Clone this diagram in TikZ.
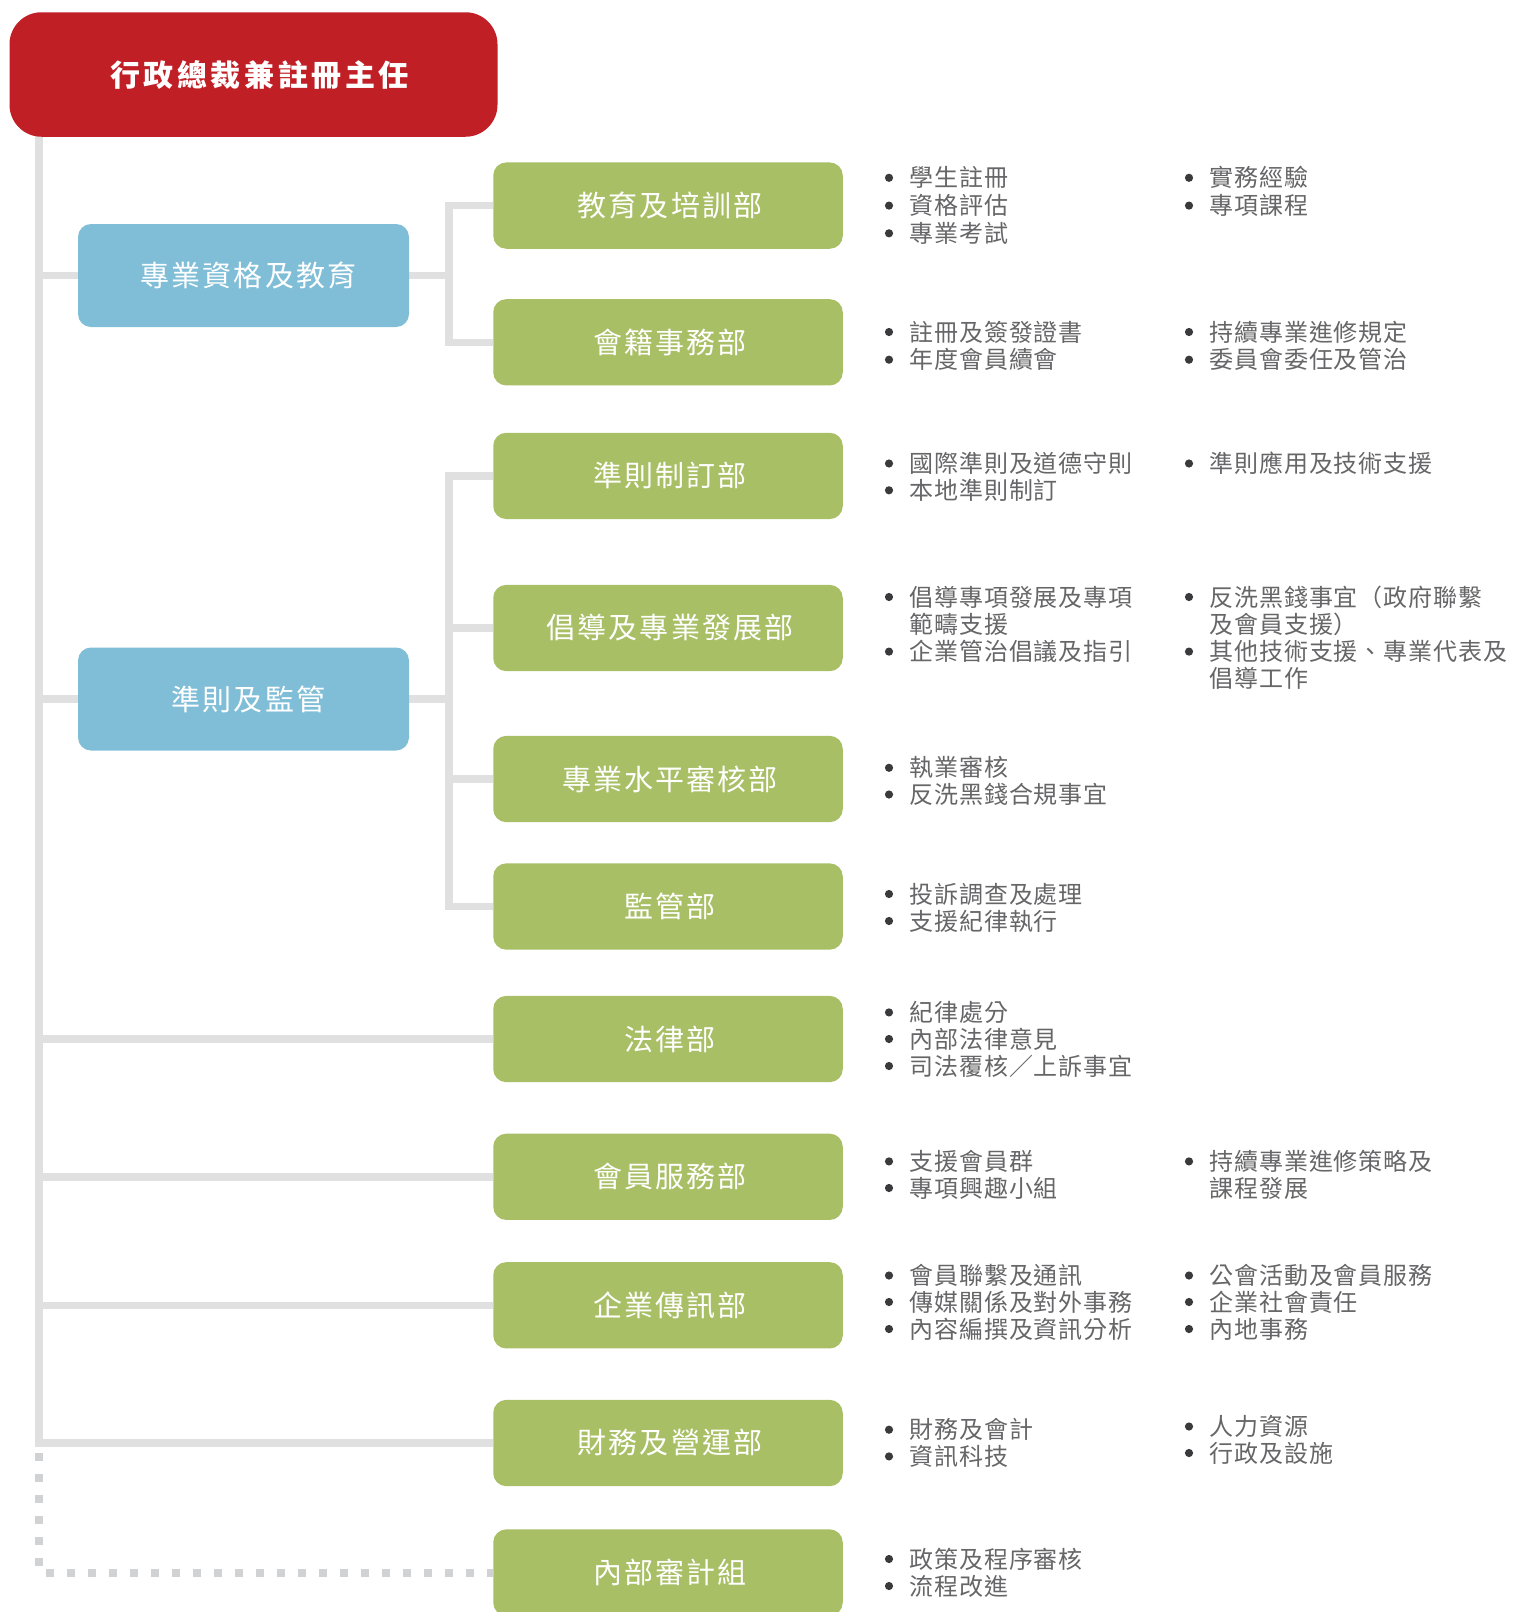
\documentclass[tikz,border=0pt]{standalone}
\usepackage{fontspec}
\usetikzlibrary{backgrounds}
\newfontfamily\bulf[LetterSpace=4]{Noto Sans CJK TC}
\newfontfamily\boxf[LetterSpace=7]{Noto Sans CJK TC}
\newfontfamily\redf[LetterSpace=11.7]{Noto Sans CJK TC}
\definecolor{redc}{HTML}{C01F26}
\definecolor{bluec}{HTML}{80BED7}
\definecolor{greenc}{HTML}{A8BF65}
\definecolor{linec}{HTML}{E0E0E0}
\definecolor{dotlc}{HTML}{D1D2D3}
\definecolor{txtc}{HTML}{666668}
\definecolor{dotc}{HTML}{3A3A3C}
\tikzset{
  redbox/.style={fill=redc, rounded corners=32pt, minimum width=488pt, minimum height=124.5pt, inner sep=0pt, text=white, font=\redf\bfseries\fontsize{30}{34}\selectfont, execute at begin node=\kern12pt},
  bluebox/.style={fill=bluec, rounded corners=13pt, minimum width=331pt, minimum height=103pt, inner sep=0pt, text=white, font=\boxf\fontsize{29}{33}\selectfont, execute at begin node=\kern10pt},
  greenbox/.style={fill=greenc, rounded corners=13pt, minimum width=349.5pt, minimum height=86.3pt, inner sep=0pt, text=white, font=\boxf\fontsize{29}{33}\selectfont, execute at begin node=\kern4pt},
  ln/.style={draw=linec, line width=7.6pt, line join=miter},
  dl/.style={draw=dotlc, line width=8pt, dash pattern=on 8pt off 13pt},
  btext/.style={anchor=base west, inner sep=0pt, text=txtc, font=\bulf\fontsize{24}{28}\selectfont},
}
\newcommand\bitem[4]{%
  \fill[dotc] (#2-20,#3) circle (4.1pt);
  \node[btext] (#1) at (#2,#3+9.1) {#4};}
\newcommand\citem[4]{%
  \node[btext] (#1) at (#2,#3+9.1) {#4};}
\begin{document}
\begin{tikzpicture}[x=1pt,y=-1pt]
\useasboundingbox (0,0) rectangle (1514,1612);

% boxes
\node[redbox] (ceo) at (253.5,74.5) {行政總裁兼註冊主任};
\node[bluebox] (b1) at (243.5,275.5) {專業資格及教育};
\node[bluebox] (b2) at (243.5,699) {準則及監管};
\node[greenbox] (g1) at (668,205.6) {教育及培訓部};
\node[greenbox] (g2) at (668,342.3) {會籍事務部};
\node[greenbox] (g3) at (668,475.9) {準則制訂部};
\node[greenbox] (g4) at (668,628) {倡導及專業發展部};
\node[greenbox] (g5) at (668,779) {專業水平審核部};
\node[greenbox] (g6) at (668,906.5) {監管部};
\node[greenbox] (g7) at (668,1039) {法律部};
\node[greenbox] (g8) at (668,1176.8) {會員服務部};
\node[greenbox] (g9) at (668,1305.3) {企業傳訊部};
\node[greenbox] (g10) at (668,1443) {財務及營運部};
\node[greenbox] (g11) at (668,1572.5) {內部審計組};

\coordinate (tr) at (39,130);
\coordinate (br) at (449,0);
\coordinate (dtop) at (39,1453);

\begin{pgfonlayer}{background}
  % trunk
  \draw[ln] (tr) |- (g10.west);
  \draw[ln] (tr |- b1.west) -- (b1.west);
  \draw[ln] (tr |- b2.west) -- (b2.west);
  \draw[ln] (tr |- g7.west) -- (g7.west);
  \draw[ln] (tr |- g8.west) -- (g8.west);
  \draw[ln] (tr |- g9.west) -- (g9.west);
  % group 1
  \draw[ln] (b1.east) -- (br |- b1.east);
  \draw[ln] (g1.west) -- (br |- g1.west) -- (br |- g2.west) -- (g2.west);
  % group 2
  \draw[ln] (b2.east) -- (br |- b2.east);
  \draw[ln] (g3.west) -- (br |- g3.west) -- (br |- g6.west) -- (g6.west);
  \draw[ln] (br |- g4.west) -- (g4.west);
  \draw[ln] (br |- g5.west) -- (g5.west);
  % dotted
  \draw[dl] (dtop) |- (g11.west);
\end{pgfonlayer}

% bullet texts
\bitem{t1a}{909}{177.8}{學生註冊}
\bitem{t1b}{909}{205.6}{資格評估}
\bitem{t1c}{909}{233.3}{專業考試}
\bitem{t1d}{1209}{177.8}{實務經驗}
\bitem{t1e}{1209}{205.6}{專項課程}

\bitem{t2a}{909}{332}{註冊及簽發證書}
\bitem{t2b}{909}{359.7}{年度會員續會}
\bitem{t2c}{1209}{332}{持續專業進修規定}
\bitem{t2d}{1209}{359.7}{委員會委任及管治}

\bitem{t3a}{909}{463.5}{國際準則及道德守則}
\bitem{t3b}{909}{490.3}{本地準則制訂}
\bitem{t3c}{1209}{463.5}{準則應用及技術支援}

\bitem{t4a}{909}{597}{倡導專項發展及專項}
\citem{t4b}{909}{624}{範疇支援}
\bitem{t4c}{909}{651.6}{企業管治倡議及指引}
\bitem{t4d}{1209}{597}{反洗黑錢事宜（政府聯繫}
\citem{t4e}{1209}{624}{及會員支援）}
\bitem{t4f}{1209}{651.6}{其他技術支援、專業代表及}
\citem{t4g}{1209}{678}{倡導工作}

\bitem{t5a}{909}{767.8}{執業審核}
\bitem{t5b}{909}{794.5}{反洗黑錢合規事宜}

\bitem{t6a}{909}{894}{投訴調查及處理}
\bitem{t6b}{909}{921}{支援紀律執行}

\bitem{t7a}{909}{1012.4}{紀律處分}
\bitem{t7b}{909}{1039}{內部法律意見}
\bitem{t7c}{909}{1066}{司法覆核／上訴事宜}

\bitem{t8a}{909}{1161.4}{支援會員群}
\bitem{t8b}{909}{1188}{專項興趣小組}
\bitem{t8c}{1209}{1161.4}{持續專業進修策略及}
\citem{t8d}{1209}{1188}{課程發展}

\bitem{t9a}{909}{1275.5}{會員聯繫及通訊}
\bitem{t9b}{909}{1302}{傳媒關係及對外事務}
\bitem{t9c}{909}{1329}{內容編撰及資訊分析}
\bitem{t9d}{1209}{1275.5}{公會活動及會員服務}
\bitem{t9e}{1209}{1302}{企業社會責任}
\bitem{t9f}{1209}{1329}{內地事務}

\bitem{t10a}{909}{1429.7}{財務及會計}
\bitem{t10b}{909}{1456.4}{資訊科技}
\bitem{t10c}{1209}{1426.5}{人力資源}
\bitem{t10d}{1209}{1453}{行政及設施}

\bitem{t11a}{909}{1559}{政策及程序審核}
\bitem{t11b}{909}{1586}{流程改進}
\end{tikzpicture}
\end{document}
